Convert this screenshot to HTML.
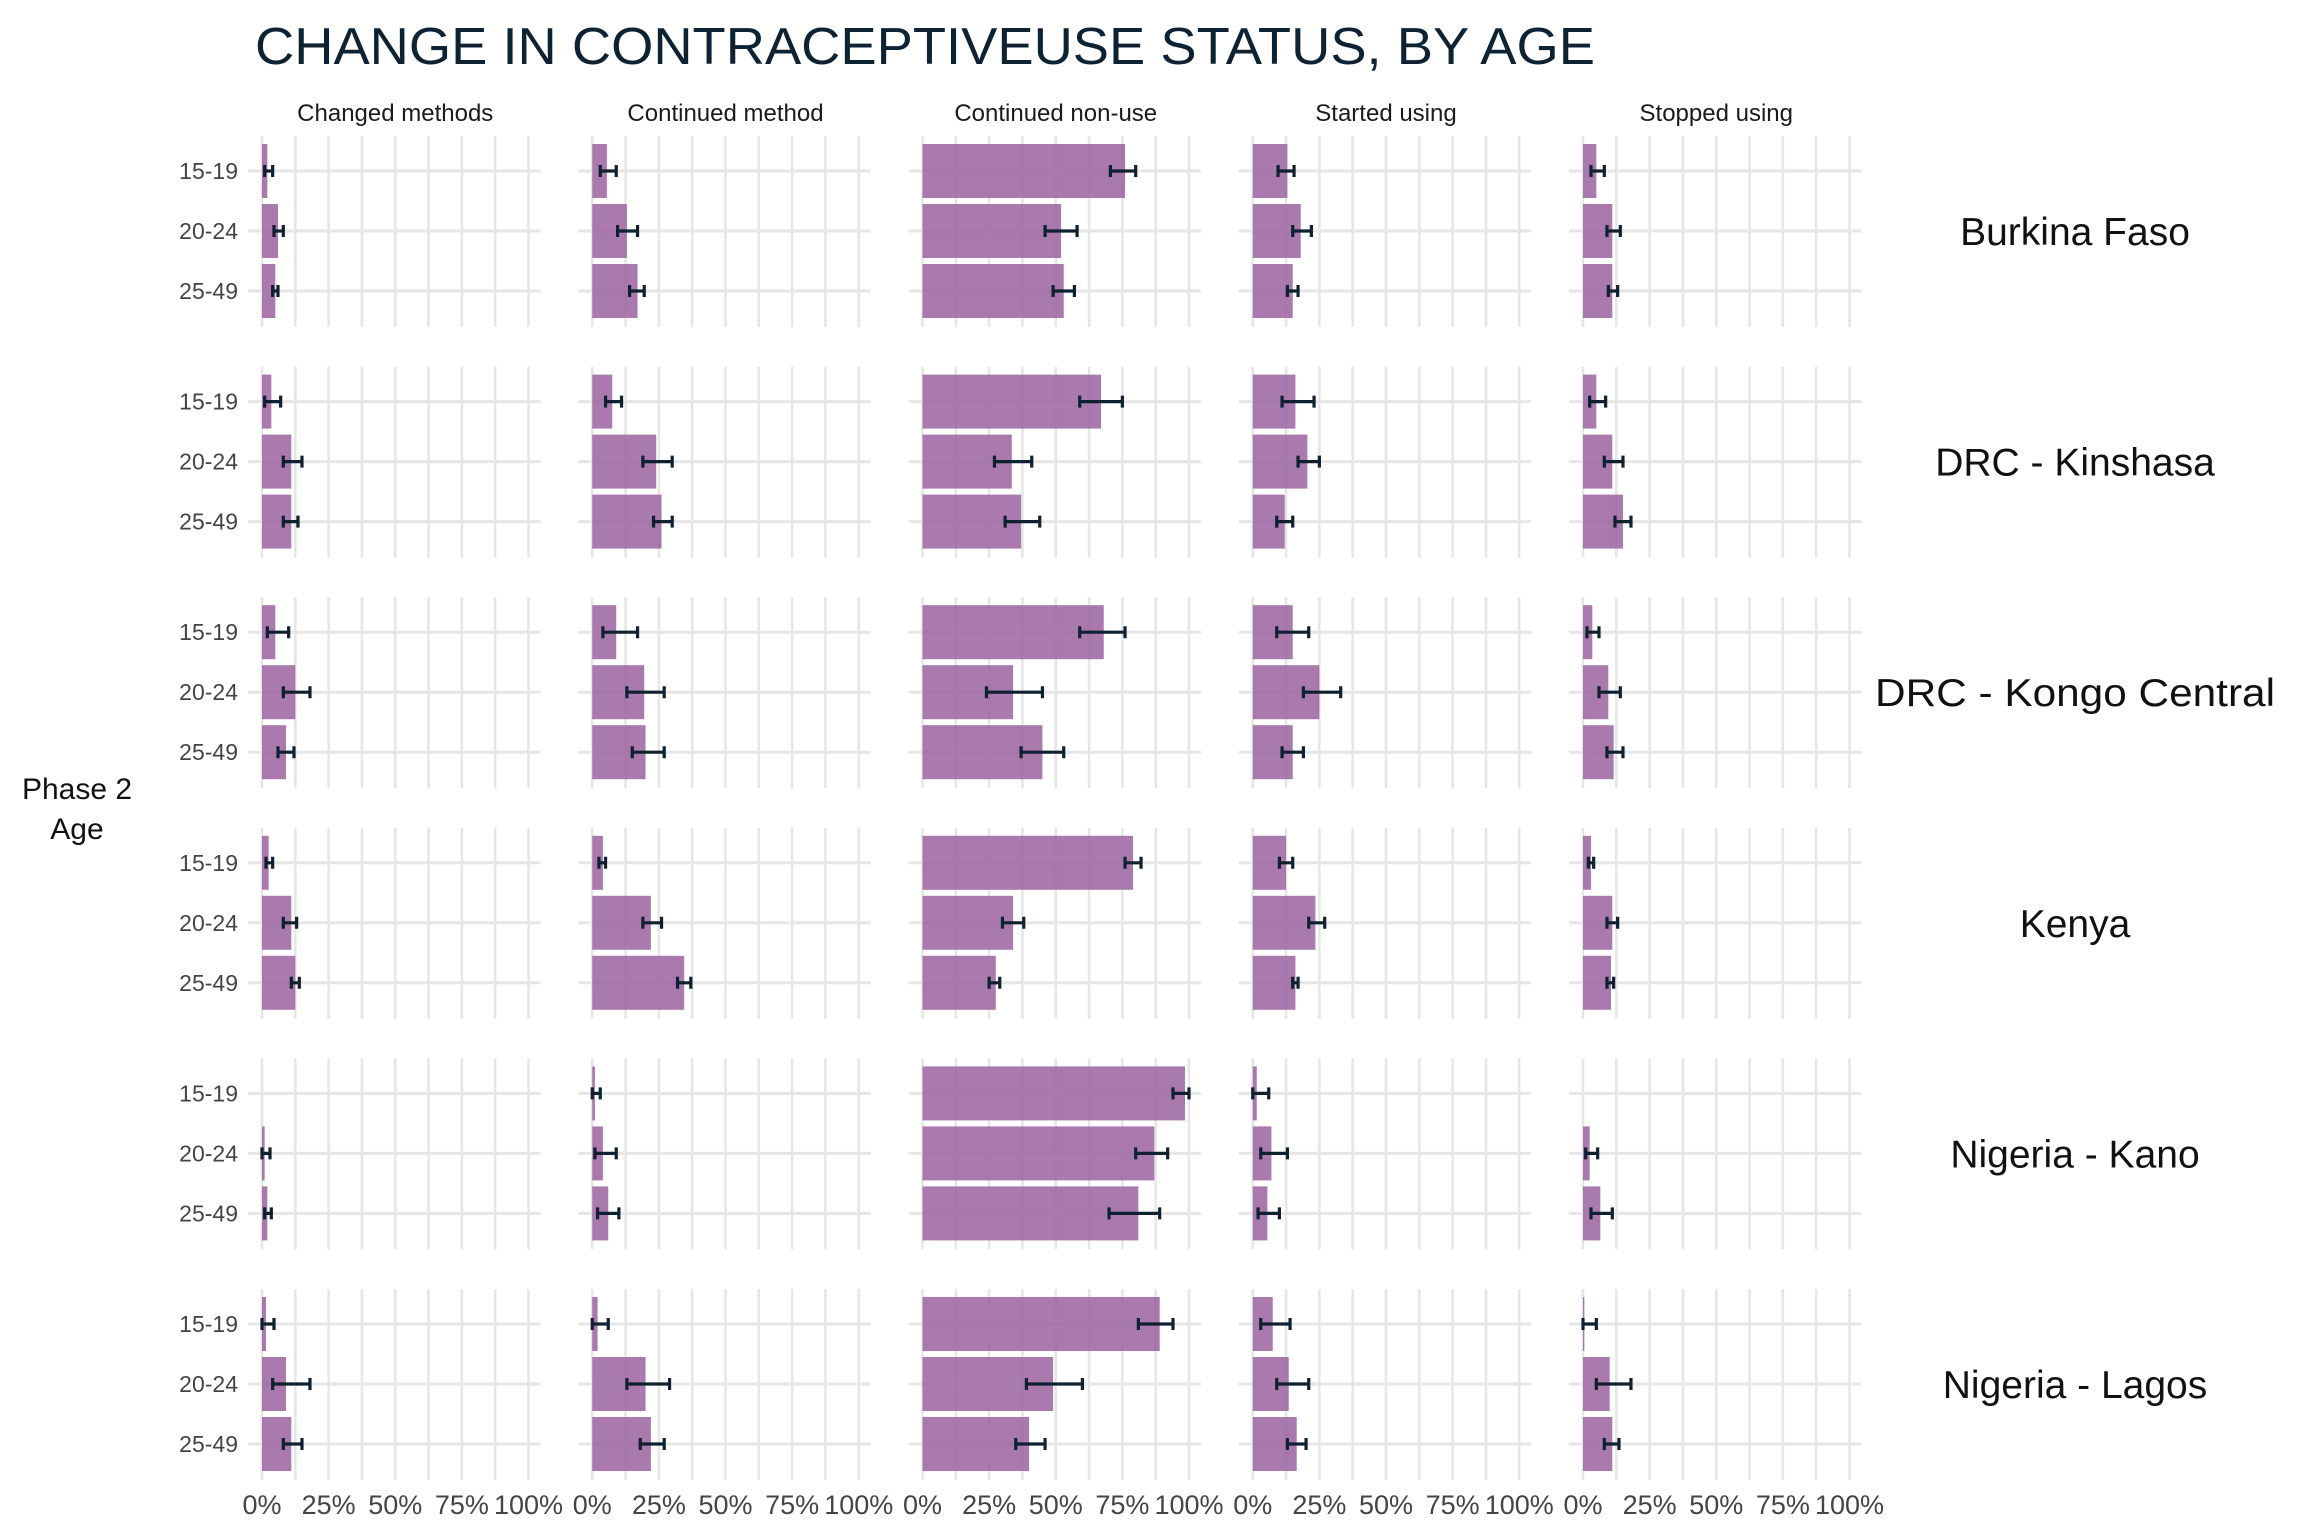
<!DOCTYPE html>
<html><head><meta charset="utf-8"><style>
html,body{margin:0;padding:0;background:#fff}
svg{display:block}
text{font-family:"Liberation Sans",sans-serif}
</style></head><body>
<svg id="chart" width="2304" height="1536" viewBox="0 0 2304 1536" xmlns="http://www.w3.org/2000/svg">
<text x="255" y="64" font-size="52" fill="#0d2233" textLength="1340" lengthAdjust="spacingAndGlyphs">CHANGE IN CONTRACEPTIVEUSE STATUS, BY AGE</text>
<text x="77" y="799" font-size="30" fill="#111" text-anchor="middle">Phase 2</text>
<text x="77" y="839" font-size="30" fill="#111" text-anchor="middle">Age</text>
<g id="plot"></g>
</svg>
<script>
const facets = ["Changed methods","Continued method","Continued non-use","Started using","Stopped using"];
const regions = ["Burkina Faso","DRC - Kinshasa","DRC - Kongo Central","Kenya","Nigeria - Kano","Nigeria - Lagos"];
const ages = ["15-19","20-24","25-49"];
const xTicks = [0,25,50,75,100];
const xTickLabels = ["0%","25%","50%","75%","100%"];
// est[region][facet][age]
const est = [
 [[2,6,5],[5.5,13,17],[76,52,53],[13,18,15],[5,11,11]],
 [[3.5,11,11],[7.5,24,26],[67,33.5,37],[16,20.5,12],[5,11,15]],
 [[5,12.5,9],[9,19.5,20],[68,34,45],[15,25,15],[3.5,9.5,11.5]],
 [[2.5,11,12.5],[4,22,34.5],[79,34,27.5],[12.5,23.5,16],[3,11,10.5]],
 [[0,1,2],[1,4,6],[98.5,87,81],[1.5,7,5.5],[0,2.5,6.5]],
 [[1.5,9,11],[2,20,22],[89,49,40],[7.5,13.5,16.5],[0.5,10,11]]
];
const lower = [
 [[1,4.5,4],[3,9.5,14],[70.5,46,49],[9.5,15,13],[3,9,9.5]],
 [[1,8,8],[5,19,23],[59,27,31],[11,17,9],[2.5,8,12]],
 [[2,8,6],[4,13,15],[59,24,37],[9,19,11],[1.5,6,9]],
 [[1.5,8,11],[2.5,19,32],[76,30,25],[10,21,15],[2,9,9]],
 [[null,0,1],[0,1,2],[94,80,70],[0,3,2],[null,1,3]],
 [[0,4,8],[0,13,18],[81,39,35],[3,9,13],[0,5,8]]
];
const upper = [
 [[4,8,6],[9,17,19.5],[80,58,57],[15.5,22,17],[8,14,13]],
 [[7,15,13.5],[11,30,30],[75,41,44],[23,25,15],[8.5,15,18]],
 [[10,18,12],[17,27,27],[76,45,53],[21,33,19],[6,14,15]],
 [[4,13,14],[5,26,37],[82,38,29],[15,27,17],[4,13,11.5]],
 [[null,3,3.5],[3,9,10],[100,92,89],[6,13,10],[null,5.5,11]],
 [[4.5,18,15],[6,29,27],[94,60,46],[14,21,20],[5,18,13.5]]
];

const NS="http://www.w3.org/2000/svg";
const plot=document.getElementById('plot');
const panelX0=262, panelStep=330.25, pxPerPct=2.665;
const rowTop0=136, rowStep=230.6, catStep=60, barH=54;
function xScale(f,v){return panelX0+f*panelStep+v*pxPerPct;}
function yScale(r,a){return rowTop0+35+r*rowStep+a*catStep;}
function mk(tag,attrs){const e=document.createElementNS(NS,tag);for(const k in attrs)e.setAttribute(k,attrs[k]);plot.appendChild(e);return e;}

facets.forEach((f,fi)=>{
  const t=mk('text',{x:xScale(fi,50),y:121,'font-size':24,fill:'#1a1a1a','text-anchor':'middle'});
  t.textContent=f;
  
  
});
regions.forEach((rg,ri)=>{
  const top=yScale(ri,0)-35, bot=yScale(ri,2)+36;
  const t=mk('text',{x:2075,y:yScale(ri,1)+14,'font-size':39,fill:'#111','text-anchor':'middle'});
  if(ri===2){t.setAttribute('textLength','400');t.setAttribute('lengthAdjust','spacingAndGlyphs');}
  t.textContent=rg;
  
  
  ages.forEach((a,ai)=>{
    const t2=mk('text',{x:238,y:yScale(ri,ai)+8,'font-size':23,fill:'#444','text-anchor':'end'});
    t2.textContent=a;
    
    
  });
  facets.forEach((f,fi)=>{
    for(let g=0;g<=8;g++){
      const x=xScale(fi,g*12.5);
      const l=mk('line',{x1:x,x2:x,y1:top,y2:bot,stroke:'#e6e6e6','stroke-width':2.5});
      
      
    }
    ages.forEach((a,ai)=>{
      const y=yScale(ri,ai);
      const l=mk('line',{x1:xScale(fi,0)-14,x2:xScale(fi,100)+12,y1:y,y2:y,stroke:'#e6e6e6','stroke-width':3});
      
      
    });
    ages.forEach((a,ai)=>{
      const y=yScale(ri,ai), v=est[ri][fi][ai];
      const b=mk('rect',{x:xScale(fi,0),y:y-barH/2,width:Math.max(0,xScale(fi,v)-xScale(fi,0)),height:barH,fill:'#9b629f','fill-opacity':0.85});
      
      
      const lo=lower[ri][fi][ai], hi=upper[ri][fi][ai];
      if(lo!==null&&hi!==null){
        const x1=xScale(fi,lo), x2=xScale(fi,hi);
        const e=mk('path',{d:`M${x1},${y}H${x2}M${x1},${y-6}V${y+6}M${x2},${y-6}V${y+6}`,stroke:'#0f2030','stroke-width':3.2,fill:'none'});
        
        
      }
    });
  });
});
facets.forEach((f,fi)=>{
  xTicks.forEach((v,ti)=>{
    const t=mk('text',{x:xScale(fi,v),y:1514,'font-size':27,fill:'#444','text-anchor':'middle'});
    t.textContent=xTickLabels[ti];
    
    
  });
});
</script>
</body></html>
